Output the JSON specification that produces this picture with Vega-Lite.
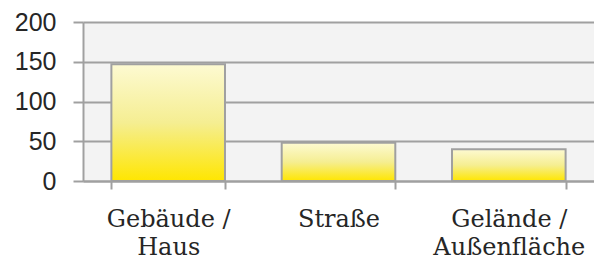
{
  "$schema": "https://vega.github.io/schema/vega-lite/v6.json",
  "autosize": {"type": "none"},
  "padding": {"top": 22, "left": 83, "right": 0, "bottom": 81},
  "width": 511,
  "height": 159,
  "background": "white",
  "config": {
    "view": {"fill": "#f3f3f3", "stroke": null}
  },
  "data": {
    "values": [
      {"kategorie": "Gebäude /|Haus", "wert": 147},
      {"kategorie": "Straße", "wert": 48},
      {"kategorie": "Gelände /|Außenfläche", "wert": 40}
    ]
  },
  "mark": {
    "type": "bar",
    "stroke": "#a0a0a0",
    "strokeWidth": 2,
    "fill": {
      "gradient": "linear",
      "x1": 0, "y1": 0, "x2": 0, "y2": 1,
      "stops": [
        {"offset": 0, "color": "#fdfad2"},
        {"offset": 0.5, "color": "#f5ee92"},
        {"offset": 1, "color": "#ffe600"}
      ]
    }
  },
  "encoding": {
    "x": {
      "field": "kategorie",
      "type": "nominal",
      "sort": null,
      "scale": {"paddingInner": 0.333, "paddingOuter": 0.1667},
      "axis": {
        "title": null,
        "labelAngle": 0,
        "labelExpr": "split(datum.label, '|')",
        "labelFont": "DejaVu Serif",
        "labelFontSize": 24,
        "labelLineHeight": 28,
        "labelColor": "#262626",
        "labelPadding": 18,
        "labelBaseline": "top",
        "tickBand": "extent",
        "tickSize": 8,
        "tickWidth": 2,
        "tickColor": "#a0a0a0",
        "domainColor": "#a0a0a0",
        "domainWidth": 2,
        "grid": false
      }
    },
    "y": {
      "field": "wert",
      "type": "quantitative",
      "scale": {"domain": [0, 200], "nice": false},
      "axis": {
        "title": null,
        "values": [0, 50, 100, 150, 200],
        "labelFont": "Liberation Sans",
        "labelFontSize": 25,
        "labelColor": "#262626",
        "labelPadding": 17,
        "tickSize": 10,
        "tickWidth": 2,
        "tickColor": "#a0a0a0",
        "domainColor": "#a0a0a0",
        "domainWidth": 2,
        "gridColor": "#a0a0a0",
        "gridWidth": 2,
        "gridOpacity": 1
      }
    }
  }
}
